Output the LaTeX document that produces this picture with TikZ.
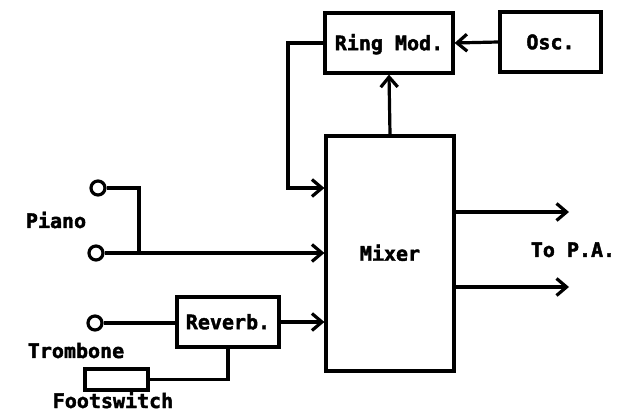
\documentclass[tikz,border=0pt]{standalone}
\usepackage{fontspec}
\setmainfont{DejaVu Sans Mono}[BoldFeatures={FakeBold=2}]
\usepackage{tikz}
\usetikzlibrary{arrows.meta,positioning}

\begin{document}
\begin{tikzpicture}[x=1pt,y=-1pt,line width=3.2pt,
  >={Straight Barb[length=10pt,width=17pt]},
  every node/.style={font=\fontsize{20}{24}\selectfont\bfseries},
  unit/.style={draw,rectangle,inner sep=0pt,text height=14.5pt,text depth=0pt},
  jack/.style={draw,circle,minimum size=14pt,inner sep=0pt},
  tag/.style={anchor=base,inner sep=0pt}]
  \useasboundingbox[fill=white] (0,0) rectangle (619,414);
  % the effect blocks
  \node[unit,minimum width=128pt,minimum height=235pt] (mixer) at (390,253.5) {Mixer};
  \node[unit,minimum width=128pt,minimum height=60pt] (ringmod) at (389,43) {Ring Mod.};
  \node[unit,minimum width=101pt,minimum height=60pt] (osc) at (550.5,42) {Osc.};
  \node[unit,minimum width=102pt,minimum height=50pt] (reverb) at (228,322) {Reverb.};
  \node[unit,minimum width=63pt,minimum height=21pt] (footsw) at (116.5,379.5) {};
  % input jacks
  \node[jack] (pianoA) at (98,188) {};
  \node[jack] (pianoB) at (96,253) {};
  \node[jack] (tromb) at (95,323) {};
  \coordinate (join) at (139,253);
  \coordinate (loop) at (288,188);
  \coordinate (outA) at (569,212);
  \coordinate (outB) at (569,287);
  % labels
  \node[tag] (piano) at (56,228) {Piano};
  \node[tag] (trombone) at (76,358) {Trombone};
  \node[tag] (footswitch) at (113,408) {Footswitch};
  \node[tag] (topa) at (573,257) {To P.A.};
  % signal paths
  \draw[->] (osc.west) -- (ringmod.east);
  \draw[->] (mixer.north) -- (ringmod.south);
  \draw[->] (ringmod.west) -| (loop) -- (loop -| mixer.west);
  \draw (pianoA.east) -| (join);
  \draw[->] (pianoB.east) -- (pianoB -| mixer.west);
  \draw (tromb.east) -- (tromb -| reverb.west);
  \draw[->] (reverb.east) -- (reverb -| mixer.west);
  \draw (footsw.east) -| (reverb.south);
  \draw[->] (outA -| mixer.east) -- (outA);
  \draw[->] (outB -| mixer.east) -- (outB);
\end{tikzpicture}
\end{document}
